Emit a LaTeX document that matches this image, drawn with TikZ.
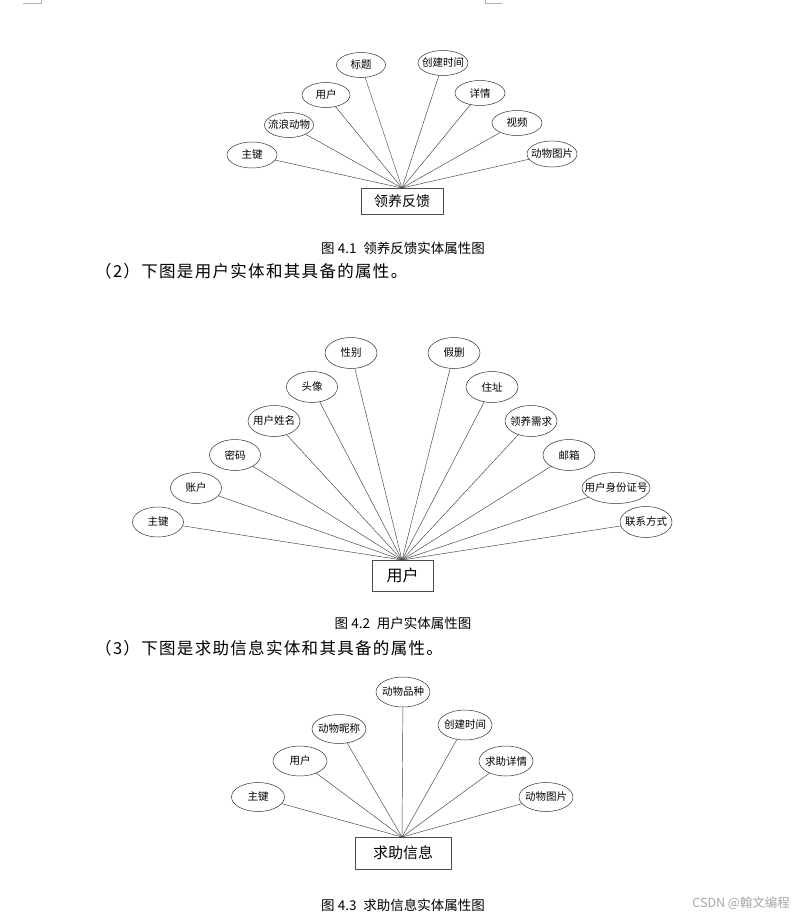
\documentclass[tikz,border=0pt]{standalone}
\usepackage{fontspec}
\newfontfamily\cjk{Noto Sans CJK SC}
\newfontfamily\cjkwide[LetterSpace=8]{Noto Sans CJK SC}
\usetikzlibrary{shapes.geometric}
\tikzset{
  attr/.style={ellipse, draw=black!80, line width=0.5pt, inner sep=0pt,
    font=\cjk\fontsize{10.5}{11}\selectfont},
  ent/.style={rectangle, draw=black!70, line width=0.6pt, inner sep=0pt},
  link/.style={draw=black!75, line width=0.45pt},
  captext/.style={font=\cjk\fontsize{13.5}{14}\selectfont, inner sep=0pt},
  paratext/.style={font=\cjkwide\fontsize{16.5}{17}\selectfont, anchor=west, inner sep=0pt},
}
\newcommand\attrnode[5]{\node[attr, minimum width=#4, minimum height=#5] (#1) at (#2) {\makebox[0pt]{#3}};}
\begin{document}
\begin{tikzpicture}[x=1pt,y=-1pt]
\useasboundingbox[fill=white] (0,0) rectangle (800,919);
% corner marks
\draw[black!30, line width=0.8pt] (23,3) -- (41,3) -- (41,0);
\draw[black!30, line width=0.8pt] (502,3) -- (485,3) -- (485,0);

% ---------- Diagram 1 ----------
\node[ent, minimum width=82, minimum height=26, font=\cjk\fontsize{14}{15}\selectfont] (e1) at (402,201) {领养反馈};
\coordinate (c1) at (402,188);
\attrnode{a1}{252,155}{主键}{50}{26}
\attrnode{a2}{289,125}{流浪动物}{49}{25}
\attrnode{a3}{326,95}{用户}{48}{25}
\attrnode{a4}{361,65}{标题}{49}{25}
\attrnode{a5}{443,63}{创建时间}{50}{25}
\attrnode{a6}{480,93}{详情}{50}{25}
\attrnode{a7}{517,123}{视频}{50}{25}
\attrnode{a8}{552,154}{动物图片}{50}{26}
\foreach \n in {a1,a2,a3,a4,a5,a6,a7,a8} \draw[link] (\n) -- (c1);
\node[captext] (cap1) at (403,248) {图 4.1\enspace 领养反馈实体属性图};
\node[paratext] (p2) at (95,271) {（2）下图是用户实体和其具备的属性。};

% ---------- Diagram 2 ----------
\node[ent, minimum width=61, minimum height=31, font=\cjk\fontsize{16}{17}\selectfont] (e2) at (402.5,575.5) {用户};
\coordinate (c2) at (402,560);
\attrnode{b1}{158,522}{主键}{51}{30}
\attrnode{b2}{196,488}{账户}{51}{31}
\attrnode{b3}{235,455}{密码}{51}{31}
\attrnode{b4}{274,421}{用户姓名}{52}{31}
\attrnode{b5}{312,387}{头像}{51}{31}
\attrnode{b6}{351,353}{性别}{52}{31}
\attrnode{b7}{454,353}{假删}{52}{31}
\attrnode{b8}{492,387}{住址}{52}{31}
\attrnode{b9}{531,421}{领养需求}{52}{31}
\attrnode{b10}{569,455}{邮箱}{52}{31}
\attrnode{b11}{616,488}{用户身份证号}{68}{31}
\attrnode{b12}{646,522}{联系方式}{52}{31}
\foreach \n in {b1,b2,b3,b4,b5,b6,b7,b8,b9,b10,b11,b12} \draw[link] (\n) -- (c2);
\node[captext] (cap2) at (403,623) {图 4.2\enspace 用户实体属性图};
\node[paratext] (p3) at (95,648) {（3）下图是求助信息实体和其具备的属性。};

% ---------- Diagram 3 ----------
\node[ent, minimum width=96, minimum height=32, font=\cjk\fontsize{15}{16}\selectfont] (e3) at (403,853) {求助信息};
\coordinate (c3) at (402,837);
\attrnode{d1}{258,797}{主键}{53}{29}
\attrnode{d2}{300,761}{用户}{54}{30}
\attrnode{d3}{339,729}{动物昵称}{54}{29}
\attrnode{d4}{403,692}{动物品种}{54}{30}
\attrnode{d5}{465,725}{创建时间}{54}{30}
\attrnode{d6}{506,761}{求助详情}{54}{30}
\attrnode{d7}{546,797}{动物图片}{54}{29}
\foreach \n in {d1,d2,d3,d4,d5,d6,d7} \draw[link] (\n) -- (c3);
\node[captext] (cap3) at (403,905) {图 4.3\enspace 求助信息实体属性图};

% watermark
\node[font=\cjk\fontsize{12.5}{13}\selectfont, text=black!35, anchor=east, inner sep=0pt] (wm) at (790,903) {CSDN @翰文编程};
\end{tikzpicture}
\end{document}
